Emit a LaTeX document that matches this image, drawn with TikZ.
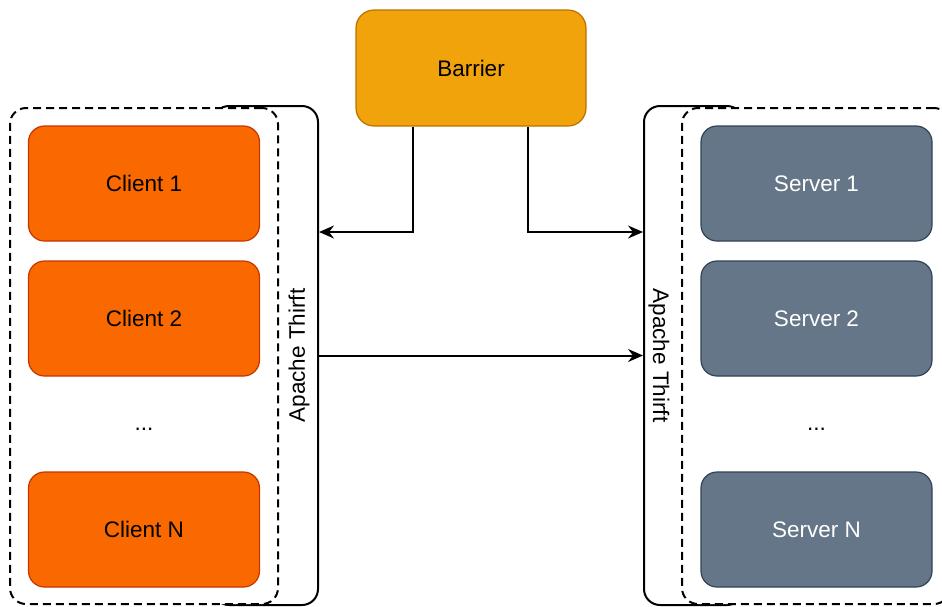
\documentclass[tikz,border=0pt]{standalone}
\usepackage{fontspec}
\setmainfont{Liberation Sans}
\usepackage{tikz}
\usetikzlibrary{
  positioning,
  calc,
  arrows.meta
}
\definecolor{clientfill}{HTML}{FA6800}
\definecolor{clientline}{HTML}{C73500}
\definecolor{serverfill}{HTML}{647687}
\definecolor{serverline}{HTML}{314354}
\definecolor{barrierfill}{HTML}{F0A30A}
\definecolor{barrierline}{HTML}{BD7000}

\begin{document}
\begin{tikzpicture}[x=1pt, y=-1pt,
    every node/.style={font=\fontsize{22.5}{27}\selectfont},
    box/.style={rounded corners=16pt, minimum width=231pt,
                minimum height=115pt, line width=1.2pt, draw},
    client/.style={box, fill=clientfill, draw=clientline, text=black},
    server/.style={box, fill=serverfill, draw=serverline, text=white},
    thrift/.style={rounded corners=16pt, draw, line width=2pt,
                   minimum height=499pt, inner sep=0pt},
    group/.style={rounded corners=16pt, draw, fill=white, line width=2pt,
                  dash pattern=on 8pt off 5pt, minimum width=268pt,
                  minimum height=496pt, inner sep=0pt},
    conn/.style={line width=2pt, -{Stealth[length=15pt, width=13pt, inset=5pt]}},
  ]
  \useasboundingbox (0,0) rectangle (942,606);

  \node[box, fill=barrierfill, draw=barrierline, minimum width=230pt,
        minimum height=116pt, rounded corners=18pt] (barrier) at (471,68) {Barrier};

  \node[thrift, minimum width=105pt] (lthrift) at (265.5,355.5) {};
  \node[thrift, minimum width=99pt]  (rthrift) at (693.5,355.5) {};
  \node[group] (lgroup) at (144,356) {};
  \node[group] (rgroup) at (816,356) {};
  \node[rotate=90]  (llabel) at ([xshift=-20pt]lthrift.east) {Apache Thirft};
  \node[rotate=-90] (rlabel) at ([xshift=16pt]rthrift.west) {Apache Thirft};

  \node[client] (c1) at (144,183.5) {Client 1};
  \node[client] (c2) at (144,318.5) {Client 2};
  \node         (cdots) at (144,429) {...};
  \node[client] (cn) at (144,529.5) {Client N};

  \node[server] (s1) at (816.5,183.5) {Server 1};
  \node[server] (s2) at (816.5,318.5) {Server 2};
  \node         (sdots) at (816.5,429) {...};
  \node[server] (sn) at (816.5,529.5) {Server N};

  \draw[conn] ([xshift=-58pt]barrier.south) |- (lthrift.east |- 0,232);
  \draw[conn] ([xshift=57pt]barrier.south) |- (rthrift.west |- 0,232);
  \draw[conn] (lthrift.east) -- (rthrift.west);
\end{tikzpicture}
\end{document}
